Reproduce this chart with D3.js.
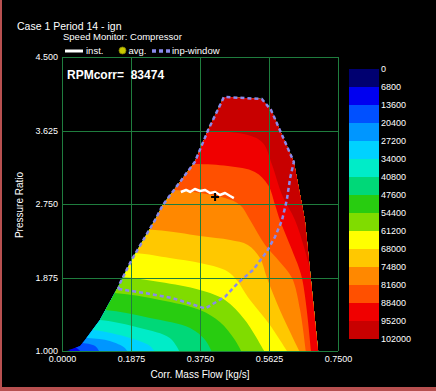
<!DOCTYPE html>
<html>
<head>
<meta charset="utf-8">
<script src="https://cdn.jsdelivr.net/npm/d3@7"></script>
<style>
body { margin: 0; background: #000; }
svg { display: block; }
text { font-family: "Liberation Sans", Arial, sans-serif; fill: #fff; }
</style>
</head>
<body>
<div id="chart"></div>
<script>
// levels of the colour bar and their colours
var levels = [0, 6800, 13600, 20400, 27200, 34000, 40800, 47600, 54400, 61200, 68000, 74800, 81600, 88400, 95200, 102000]
var bandColors = ["#000070", "#0000f0", "#0050ff", "#0096ff", "#00d2ff", "#00ecc8", "#00d878", "#28cc10",
	"#80dc00", "#ffff00", "#ffc800", "#ff8800", "#ff5000", "#f00000", "#c80000"]

var xTicks = [0, 0.1875, 0.375, 0.5625, 0.75]
var yTicks = [1, 1.875, 2.75, 3.625, 4.5]

// compressor map envelope [mass flow, pressure ratio]
var envelope = [[0.008, 1.0], [0.027, 1.024], [0.049, 1.06], [0.0625, 1.131], [0.103, 1.369], [0.158, 1.81],
	[0.189, 2.083], [0.253, 2.56], [0.274, 2.738], [0.361, 3.25], [0.397, 3.63], [0.440, 4.024],
	[0.543, 4.0], [0.568, 3.869], [0.630, 3.25], [0.660, 2.56], [0.696, 1.0]]

// iso-speed lines, one per level boundary (6800 ... 95200)
var isoLines = [
	[[0, 1.018], [0.016, 1.018], [0.027, 0.98]],
	[[0, 1.048], [0.035, 1.048], [0.054, 0.98]],
	[[0, 1.095], [0.049, 1.095], [0.090, 1.06], [0.103, 0.98]],
	[[0, 1.155], [0.071, 1.155], [0.130, 1.119], [0.171, 1.036], [0.179, 0.98]],
	[[0, 1.250], [0.084, 1.250], [0.185, 1.155], [0.239, 1.06], [0.253, 0.98]],
	[[0, 1.369], [0.103, 1.369], [0.212, 1.274], [0.293, 1.155], [0.321, 0.98]],
	[[0, 1.488], [0.117, 1.488], [0.239, 1.393], [0.348, 1.274], [0.389, 1.131], [0.408, 0.98]],
	[[0, 1.690], [0.144, 1.690], [0.266, 1.607], [0.375, 1.488], [0.429, 1.345], [0.470, 1.131], [0.489, 0.98]],
	[[0, 1.881], [0.158, 1.881], [0.266, 1.821], [0.375, 1.726], [0.443, 1.607], [0.497, 1.369], [0.552, 0.98]],
	[[0, 2.167], [0.198, 2.167], [0.293, 2.107], [0.375, 2.048], [0.443, 1.964], [0.470, 1.869], [0.511, 1.607], [0.565, 1.310], [0.614, 0.98]],
	[[0, 2.440], [0.253, 2.440], [0.375, 2.369], [0.457, 2.321], [0.505, 2.262], [0.538, 2.107], [0.557, 1.869], [0.592, 1.488], [0.647, 0.98]],
	[[0, 2.917], [0.304, 2.917], [0.375, 2.881], [0.443, 2.821], [0.484, 2.738], [0.511, 2.560], [0.552, 2.262], [0.592, 2.060], [0.625, 1.869], [0.647, 1.488], [0.663, 0.98]],
	[[0, 3.226], [0.356, 3.226], [0.451, 3.202], [0.524, 3.131], [0.560, 2.976], [0.579, 2.738], [0.592, 2.560], [0.625, 2.202], [0.652, 1.869], [0.677, 0.98]],
	[[0, 3.619], [0.397, 3.619], [0.505, 3.571], [0.546, 3.476], [0.571, 3.214], [0.598, 2.857], [0.633, 2.560], [0.660, 2.202], [0.688, 1.726], [0.701, 1.6]]
]

// input window (dashed)
var inpWindow = [[0.153, 1.738], [0.230, 1.687], [0.302, 1.627], [0.389, 1.506], [0.443, 1.646], [0.478, 1.81],
	[0.519, 1.964], [0.556, 2.18], [0.579, 2.36], [0.598, 2.56], [0.611, 2.80], [0.620, 3.06], [0.630, 3.25],
	[0.568, 3.869], [0.543, 4.0], [0.440, 4.024], [0.397, 3.63], [0.361, 3.25], [0.274, 2.738], [0.253, 2.56],
	[0.189, 2.083], [0.158, 1.81], [0.153, 1.738]]

// instantaneous operating points
var inst = [[0.323, 2.893], [0.337, 2.917], [0.348, 2.893], [0.361, 2.929], [0.375, 2.905], [0.389, 2.917],
	[0.402, 2.881], [0.416, 2.893], [0.429, 2.857], [0.443, 2.881], [0.457, 2.845], [0.467, 2.821]]
var avgPoint = [0.416, 2.833]
var rpmCorr = 83474

var w = 436, h = 391

var svg = d3.select("#chart")
	.append("svg")
	.attr("width", w)
	.attr("height", h)

svg.append("rect").attr("width", w).attr("height", h).attr("fill", "#000")
// window border
svg.append("rect").attr("x", 0).attr("y", 0).attr("width", 2).attr("height", h).attr("fill", "#b85050")
svg.append("rect").attr("x", 0).attr("y", 387).attr("width", w).attr("height", 4).attr("fill", "#b85050")

var x = d3.scaleLinear().domain([0, 0.75]).range([62, 338])
var y = d3.scaleLinear().domain([1, 4.5]).range([351, 57])

var lineGen = d3.line().x(function(d) {return x(d[0])}).y(function(d) {return y(d[1])})
var smoothGen = d3.line().x(function(d) {return x(d[0])}).y(function(d) {return y(d[1])})
	.curve(d3.curveCatmullRom.alpha(0.5))

svg.append("clipPath").attr("id", "env")
	.append("path").attr("d", lineGen(envelope) + "Z")

var mapG = svg.append("g").attr("clip-path", "url(#env)")

mapG.append("path")
	.attr("d", lineGen(envelope) + "Z")
	.attr("fill", bandColors[0])

// region above each iso line gets the next colour
isoLines.forEach(function(l, i) {
	var last = l[l.length - 1]
	var close = [[last[0], 0.5], [1.2, 0.5], [1.2, 5.5], [-0.1, 5.5], [-0.1, l[0][1]]]
	var d = smoothGen(l) + close.map(function(p) {return "L" + x(p[0]) + "," + y(p[1])}).join("") + "Z"
	mapG.append("path").attr("d", d).attr("fill", bandColors[i + 1])
})

// grid
var gridG = svg.append("g").attr("stroke", "#1f7d3e").attr("stroke-width", 1)
gridG.selectAll(".vx").data(xTicks).enter().append("line")
	.attr("x1", function(d) {return Math.round(x(d)) + 0.5}).attr("x2", function(d) {return Math.round(x(d)) + 0.5})
	.attr("y1", y(4.5)).attr("y2", y(1))
gridG.selectAll(".hy").data(yTicks).enter().append("line")
	.attr("y1", function(d) {return Math.round(y(d)) + 0.5}).attr("y2", function(d) {return Math.round(y(d)) + 0.5})
	.attr("x1", x(0)).attr("x2", x(0.75))

// axes labels
var xAxis = svg.append("g").attr("transform", "translate(0," + y(1) + ")")
	.call(d3.axisBottom(x).tickValues(xTicks).tickFormat(d3.format(".4f")).tickSize(0).tickPadding(5))
var yAxis = svg.append("g").attr("transform", "translate(" + x(0) + ",0)")
	.call(d3.axisLeft(y).tickValues(yTicks).tickFormat(d3.format(".3f")).tickSize(0).tickPadding(4))
;[xAxis, yAxis].forEach(function(a) {
	a.select(".domain").remove()
	a.attr("color", "#fff").attr("font-size", 9).attr("font-family", "Liberation Sans, Arial, sans-serif")
})

svg.append("text").attr("x", 200).attr("y", 378).attr("text-anchor", "middle")
	.attr("font-size", 10).text("Corr. Mass Flow [kg/s]")
svg.append("text").attr("transform", "translate(23,205) rotate(-90)").attr("text-anchor", "middle")
	.attr("font-size", 10).text("Pressure Ratio")

// input window
svg.append("path")
	.attr("d", lineGen(inpWindow))
	.attr("fill", "none")
	.attr("stroke", "#8a8aec")
	.attr("stroke-width", 2.5)
	.attr("stroke-dasharray", "4,3")

// instantaneous trace
svg.append("path")
	.attr("d", lineGen(inst))
	.attr("fill", "none")
	.attr("stroke", "#fff")
	.attr("stroke-width", 2.5)
	.attr("stroke-linejoin", "round")

// average marker (cross)
var ax = x(avgPoint[0]), ay = y(avgPoint[1])
svg.append("path")
	.attr("d", "M" + (ax - 4) + "," + ay + "H" + (ax + 4) + "M" + ax + "," + (ay - 4) + "V" + (ay + 4))
	.attr("stroke", "#000").attr("stroke-width", 2)

svg.append("text").attr("x", 67).attr("y", 79).attr("font-size", 12).attr("font-weight", "bold")
	.attr("xml:space", "preserve").text("RPMcorr=  " + rpmCorr)

// titles
svg.append("text").attr("x", 17).attr("y", 30).attr("font-size", 10.5).text("Case 1 Period 14 - ign")
svg.append("text").attr("x", 63).attr("y", 40).attr("font-size", 9.5).text("Speed Monitor: Compressor")

// legend
svg.append("line").attr("x1", 65).attr("x2", 83).attr("y1", 51).attr("y2", 51)
	.attr("stroke", "#fff").attr("stroke-width", 3)
svg.append("text").attr("x", 86).attr("y", 54).attr("font-size", 9.5).text("inst.")
svg.append("circle").attr("cx", 122.5).attr("cy", 50.5).attr("r", 3.5)
	.attr("fill", "#c8c800").attr("stroke", "#808000").attr("stroke-width", 0.8)
svg.append("text").attr("x", 128.5).attr("y", 54).attr("font-size", 9.5).text("avg.")
svg.append("line").attr("x1", 152).attr("x2", 171).attr("y1", 51).attr("y2", 51)
	.attr("stroke", "#8a8aec").attr("stroke-width", 3.5).attr("stroke-dasharray", "4,3")
svg.append("text").attr("x", 172).attr("y", 54).attr("font-size", 9.5).text("inp-window")

// colour bar
var cb = d3.scaleLinear().domain([0, 102000]).range([69, 339])
svg.selectAll(".band").data(bandColors).enter().append("rect")
	.attr("x", 349).attr("width", 30)
	.attr("y", function(d, i) {return cb(levels[i])})
	.attr("height", function(d, i) {return cb(levels[i + 1]) - cb(levels[i])})
	.attr("fill", function(d) {return d})
svg.selectAll(".cbl").data(levels).enter().append("text")
	.attr("x", 381).attr("y", function(d) {return cb(d)}).attr("dy", "0.35em")
	.attr("font-size", 9).text(function(d) {return d})
</script>
</body>
</html>
